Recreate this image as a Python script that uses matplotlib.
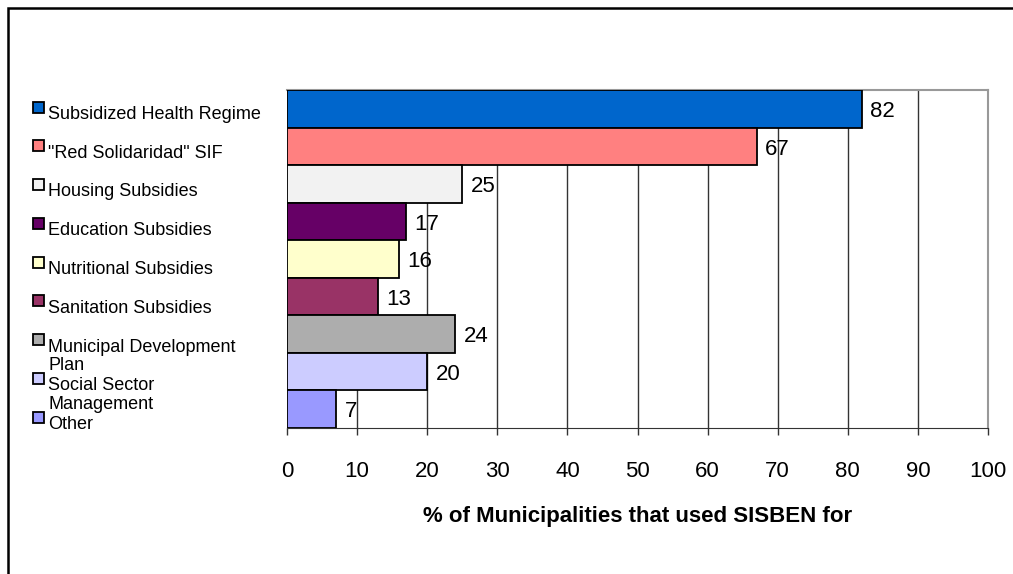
import matplotlib
matplotlib.use('Agg')
import matplotlib.pyplot as plt
from matplotlib.patches import Rectangle

plt.rcParams['font.family'] = ['Liberation Sans', 'DejaVu Sans']

# data
labels = ['Subsidized Health Regime', '"Red Solidaridad" SIF', 'Housing Subsidies',
          'Education Subsidies', 'Nutritional Subsidies', 'Sanitation Subsidies',
          'Municipal Development\nPlan', 'Social Sector\nManagement', 'Other']
values = [82, 67, 25, 17, 16, 13, 24, 20, 7]
colors = ['#0066CC', '#FF8080', '#F2F2F2', '#660066', '#FFFFCC', '#993366',
          '#ADADAD', '#CCCCFF', '#9999FF']
xticks = [0, 10, 20, 30, 40, 50, 60, 70, 80, 90, 100]

W, H = 1013, 574
fig = plt.figure(figsize=(W / 100, H / 100), dpi=100)
ax = fig.add_axes([287 / W, 1 - 428 / H, (988 - 287) / W, (428 - 90) / H])

y = list(range(len(values)))
ax.barh(y, values, height=1.0, color=colors, edgecolor='black', linewidth=1.3, zorder=3)
ax.set_ylim(len(values) - 0.5, -0.5)
ax.set_xlim(0, 100)

for i, v in enumerate(values):
    ax.annotate(str(v), (v, i), xytext=(6, -2), textcoords='offset points',
                va='center', ha='left', fontsize=16, zorder=4)

ax.set_xticks(xticks)
ax.grid(axis='x', color='#333333', linewidth=1, zorder=1)
ax.set_yticks([])
ax.tick_params(axis='x', direction='out', length=5, width=1, color='#333333',
               labelsize=16, pad=19)
for s in ['top', 'right']:
    ax.spines[s].set_color('#999999')
    ax.spines[s].set_linewidth(1.5)
ax.spines['left'].set_visible(False)
ax.spines['bottom'].set_color('#333333')
ax.set_xlabel('% of Municipalities that used SISBEN for', fontsize=16,
              fontweight='bold', labelpad=17)

# legend-style labels on the left (first line next to the square, rest below)
sq = 11
for i, (lab, c) in enumerate(zip(labels, colors)):
    cy = 107 + i * 38.75
    fig.patches.append(Rectangle((33 / W, 1 - (cy + sq / 2) / H), sq / W, sq / H,
                                 transform=fig.transFigure, facecolor=c,
                                 edgecolor='black', linewidth=1.3))
    for k, line in enumerate(lab.split('\n')):
        fig.text(48 / W, 1 - (cy + 12 + k * 19) / H, line, ha='left',
                 va='baseline', fontsize=13)

# outer frame
fig.patches.append(Rectangle((8 / W, -0.05), 1.1, 1 - 8 / H + 0.05,
                             transform=fig.transFigure, fill=False,
                             edgecolor='black', linewidth=1.8))

fig.savefig('out.png', dpi=100)
